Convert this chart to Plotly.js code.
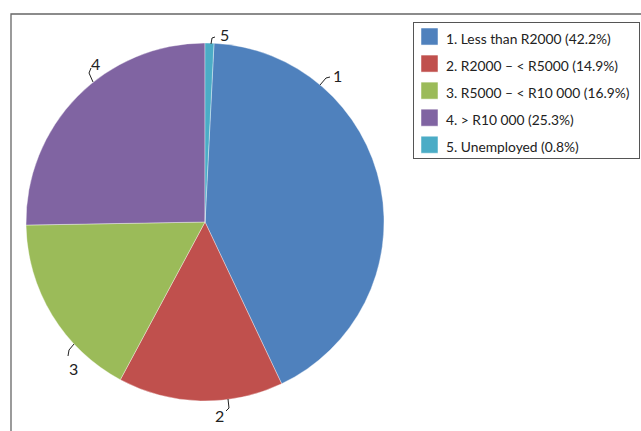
<!DOCTYPE html>
<html><head><meta charset="utf-8">
<script src="https://cdn.plot.ly/plotly-3.0.1.min.js"></script>
<style>html,body{margin:0;padding:0;background:#fff;}#chart{width:641px;height:431px;}</style>
</head><body><div id="chart"></div>
<script>
// Data
var categories = ["1. Less than R2000 (42.2%)", "2. R2000 – < R5000 (14.9%)", "3. R5000 – < R10 000 (16.9%)", "4. > R10 000 (25.3%)", "5. Unemployed (0.8%)"];
var shortLabels = ["1", "2", "3", "4", "5"];
var values = [42.2, 14.9, 16.9, 25.3, 0.8];
var colors = ["#4F81BD", "#C0504D", "#9BBB59", "#8064A2", "#4BACC6"];

var W = 641, H = 431;
function px(x){ return x / W; }
function py(y){ return 1 - y / H; }

// label positions (pixels) and small leader brackets
var labelPos = [[337,76],[219,415],[73,368],[95,63],[225,35]];
var brackets = [
  [[320,85],[326,78],[330,77]],
  [[228,399],[229,408],[226,411]],
  [[74,344],[69,350],[68,356]],
  [[93,82],[89,73],[91,68]],
  [[211,44],[212,38],[215,37]]
];

var legendLabels = categories.map(function(c){ return '<span style="font-size:13.8px">' + c + '</span>'; });

var trace = {
  type: 'pie',
  labels: legendLabels,
  values: values,
  text: shortLabels,
  sort: false,
  direction: 'clockwise',
  rotation: values[4] / 100 * 360,
  textinfo: 'none',
  hoverinfo: 'label+percent',
  marker: { colors: colors, line: { color: 'rgba(255,255,255,0.6)', width: 0.6 } },
  domain: { x: [px(26), px(384)], y: [py(401), py(43)] }
};

var annotations = labelPos.map(function(p, i){
  return { xref: 'paper', yref: 'paper', x: px(p[0]), y: py(p[1]), text: shortLabels[i], showarrow: false,
           xanchor: 'center', yanchor: 'middle', font: { family: 'Lato, sans-serif', size: 16, color: '#222' } };
});

var shapes = brackets.map(function(b){
  var d = 'M' + b.map(function(p){ return px(p[0]) + ',' + py(p[1]); }).join(' L');
  return { type: 'path', xref: 'paper', yref: 'paper', path: d, line: { color: '#222', width: 1 } };
});
shapes.push({ type: 'rect', xref: 'paper', yref: 'paper', x0: px(11), x1: 1.05, y0: -0.05, y1: py(14),
              line: { color: '#666', width: 1.3 }, fillcolor: 'rgba(0,0,0,0)' });

var layout = {
  width: W, height: H,
  margin: { l: 0, r: 0, t: 0, b: 0, autoexpand: false },
  paper_bgcolor: '#fff',
  showlegend: true,
  legend: { xref: 'container', yref: 'container', x: px(413), y: py(17), xanchor: 'left', yanchor: 'top',
            bordercolor: '#555', borderwidth: 1, bgcolor: '#fff',
            font: { family: 'Lato, sans-serif', size: 18.5, color: '#222' }, itemwidth: 30 },
  annotations: annotations,
  shapes: shapes
};

Plotly.newPlot('chart', [trace], layout, { displayModeBar: false, staticPlot: true }).then(function(gd){
  var leg = gd.querySelector('.legend');
  if (!leg) return;
  var tr = leg.getAttribute('transform') || '';
  var m = tr.match(/translate\(([-\d.]+)[ ,]+([-\d.]+)\)/);
  if (m) leg.setAttribute('transform', 'translate(413,' + m[2] + ')');
  leg.querySelectorAll('[clip-path]').forEach(function(el){ el.removeAttribute('clip-path'); });
  leg.querySelectorAll('.legendpoints path').forEach(function(p){
    p.setAttribute('transform', 'translate(15.5,0) scale(1.42)');
  });
  leg.querySelectorAll('text.legendtext').forEach(function(t){
    t.setAttribute('x', 32);
    t.querySelectorAll('tspan[x]').forEach(function(s){ s.setAttribute('x', 32); });
  });
  var bg = leg.querySelector('rect.bg');
  if (bg) {
    bg.setAttribute('width', 226);
    bg.setAttribute('y', 5);
    bg.setAttribute('height', 136);
  }
});
</script></body></html>
